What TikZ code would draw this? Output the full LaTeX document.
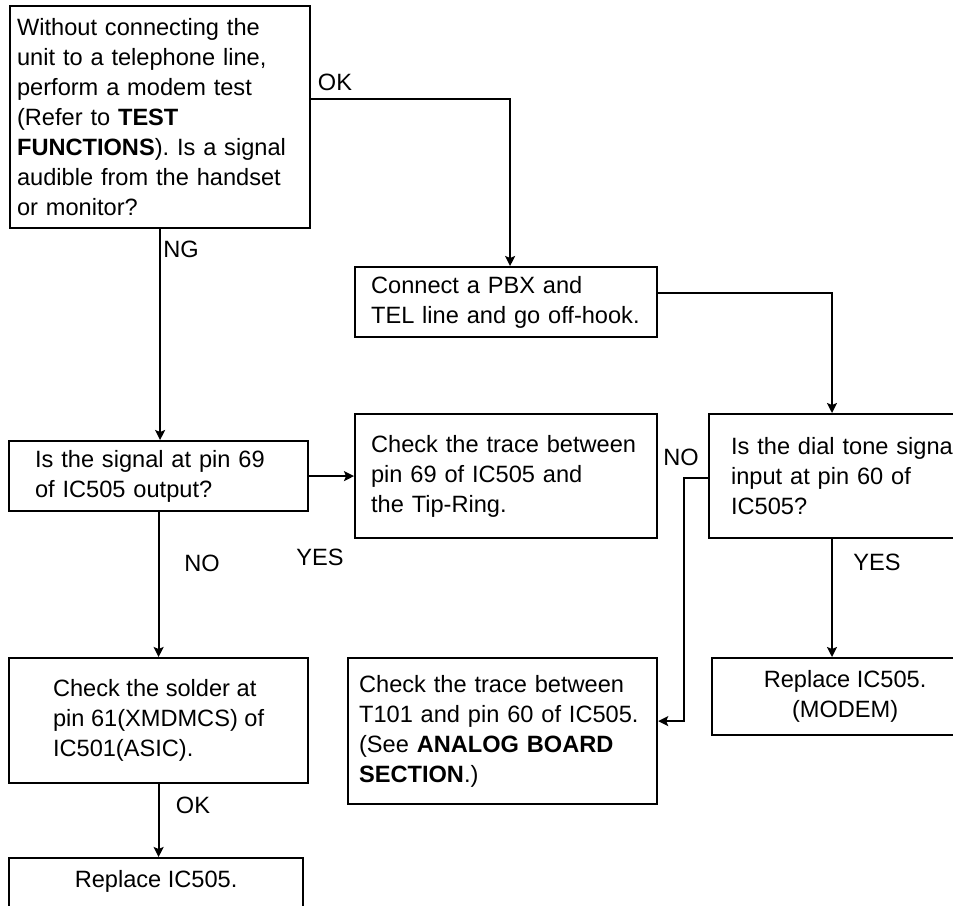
\documentclass[tikz,border=0pt]{standalone}
\usepackage{fontspec}
\setmainfont{Liberation Sans}
\usetikzlibrary{arrows.meta,positioning}
\newcommand\chartfont{\fontsize{23.6pt}{30pt}\selectfont}
\tikzset{
  box/.style={rectangle, draw=black, line width=2.2pt, anchor=north west,
              inner ysep=0pt, align=left, font=\chartfont},
  arrow/.style={-{Stealth[length=10pt,width=10pt,inset=2pt]}, line width=1.8pt},
  lbl/.style={inner sep=0pt, font=\chartfont}
}
\begin{document}
\begin{tikzpicture}[x=1pt, y=-1pt]
\useasboundingbox (0,0) rectangle (953,905);
\clip (0,0) rectangle (953,905);
% boxes
\node[box, inner xsep=7pt, text width=286pt, minimum height=222pt] (start) at (9,5)
  {Without connecting the\\unit to a telephone line,\\perform a modem test\\(Refer to \textbf{TEST}\\\textbf{FUNCTIONS}). Is a signal\\audible from the handset\\or monitor?};
\node[box, inner xsep=16pt, text width=270pt, minimum height=70pt] (pbx) at (354,266)
  {Connect a PBX and\\TEL line and go off-hook.};
\node[box, inner xsep=26pt, text width=247pt, minimum height=70pt] (pin69) at (8,440)
  {Is the signal at pin 69\\of IC505 output?};
\node[box, inner xsep=16pt, text width=270pt, minimum height=124pt] (trace69) at (354,413)
  {Check the trace between\\pin 69 of IC505 and\\the Tip-Ring.};
\node[box, inner xsep=22pt, text width=292pt, minimum height=124pt] (dial) at (708,413)
  {Is the dial tone signal\\input at pin 60 of\\IC505?};
\node[box, minimum width=299pt, minimum height=125pt] (solder) at (8,657)
  {Check the solder at\\pin 61(XMDMCS) of\\IC501(ASIC).};
\node[box, inner xsep=11pt, text width=287pt, minimum height=146pt] (trace60) at (347,657)
  {Check the trace between\\T101 and pin 60 of IC505.\\(See \textbf{ANALOG BOARD}\\\textbf{SECTION}.)};
\node[box, align=center, minimum width=266pt, minimum height=77pt] (modem) at (711,657)
  {Replace IC505.\\(MODEM)};
\node[box, align=center, minimum width=294pt, minimum height=70pt, text depth=29pt] (replace) at (8,857)
  {Replace IC505.};
% connectors
\coordinate (okbend) at ([yshift=-94pt]start.north east);
\coordinate (pbxin) at ([xshift=4pt]pbx.north);
\coordinate (pbxout) at ([yshift=9pt]pbx.east);
\coordinate (dialin) at ([xshift=124pt]dial.north west);
\coordinate (dialout) at ([xshift=124pt]dial.south west);
\draw[arrow] (okbend) -| (pbxin);
\draw[arrow] (start.south) -- (start.south |- pin69.north);
\draw[arrow] (pbxout) -| (dialin);
\draw[arrow] (pin69.east) -- (trace69.west);
\draw[arrow] (pin69.south) -- (solder.north);
\draw[arrow] ([yshift=-2pt]dial.west) -- ++(-24,0) |- ([yshift=10pt]trace60.east);
\draw[arrow] (dialout) -- (dialout |- modem.north);
\draw[arrow] (solder.south) -- (solder.south |- replace.north);
% labels
\node[lbl] (lok1) at (335,82) {OK};
\node[lbl] (lng) at (181,249) {NG};
\node[lbl] (lno1) at (202,563) {NO};
\node[lbl] (lyes1) at (320,557) {YES};
\node[lbl] (lno2) at (681,457) {NO};
\node[lbl] (lyes2) at (877,562) {YES};
\node[lbl] (lok2) at (193,805) {OK};
\end{tikzpicture}
\end{document}
